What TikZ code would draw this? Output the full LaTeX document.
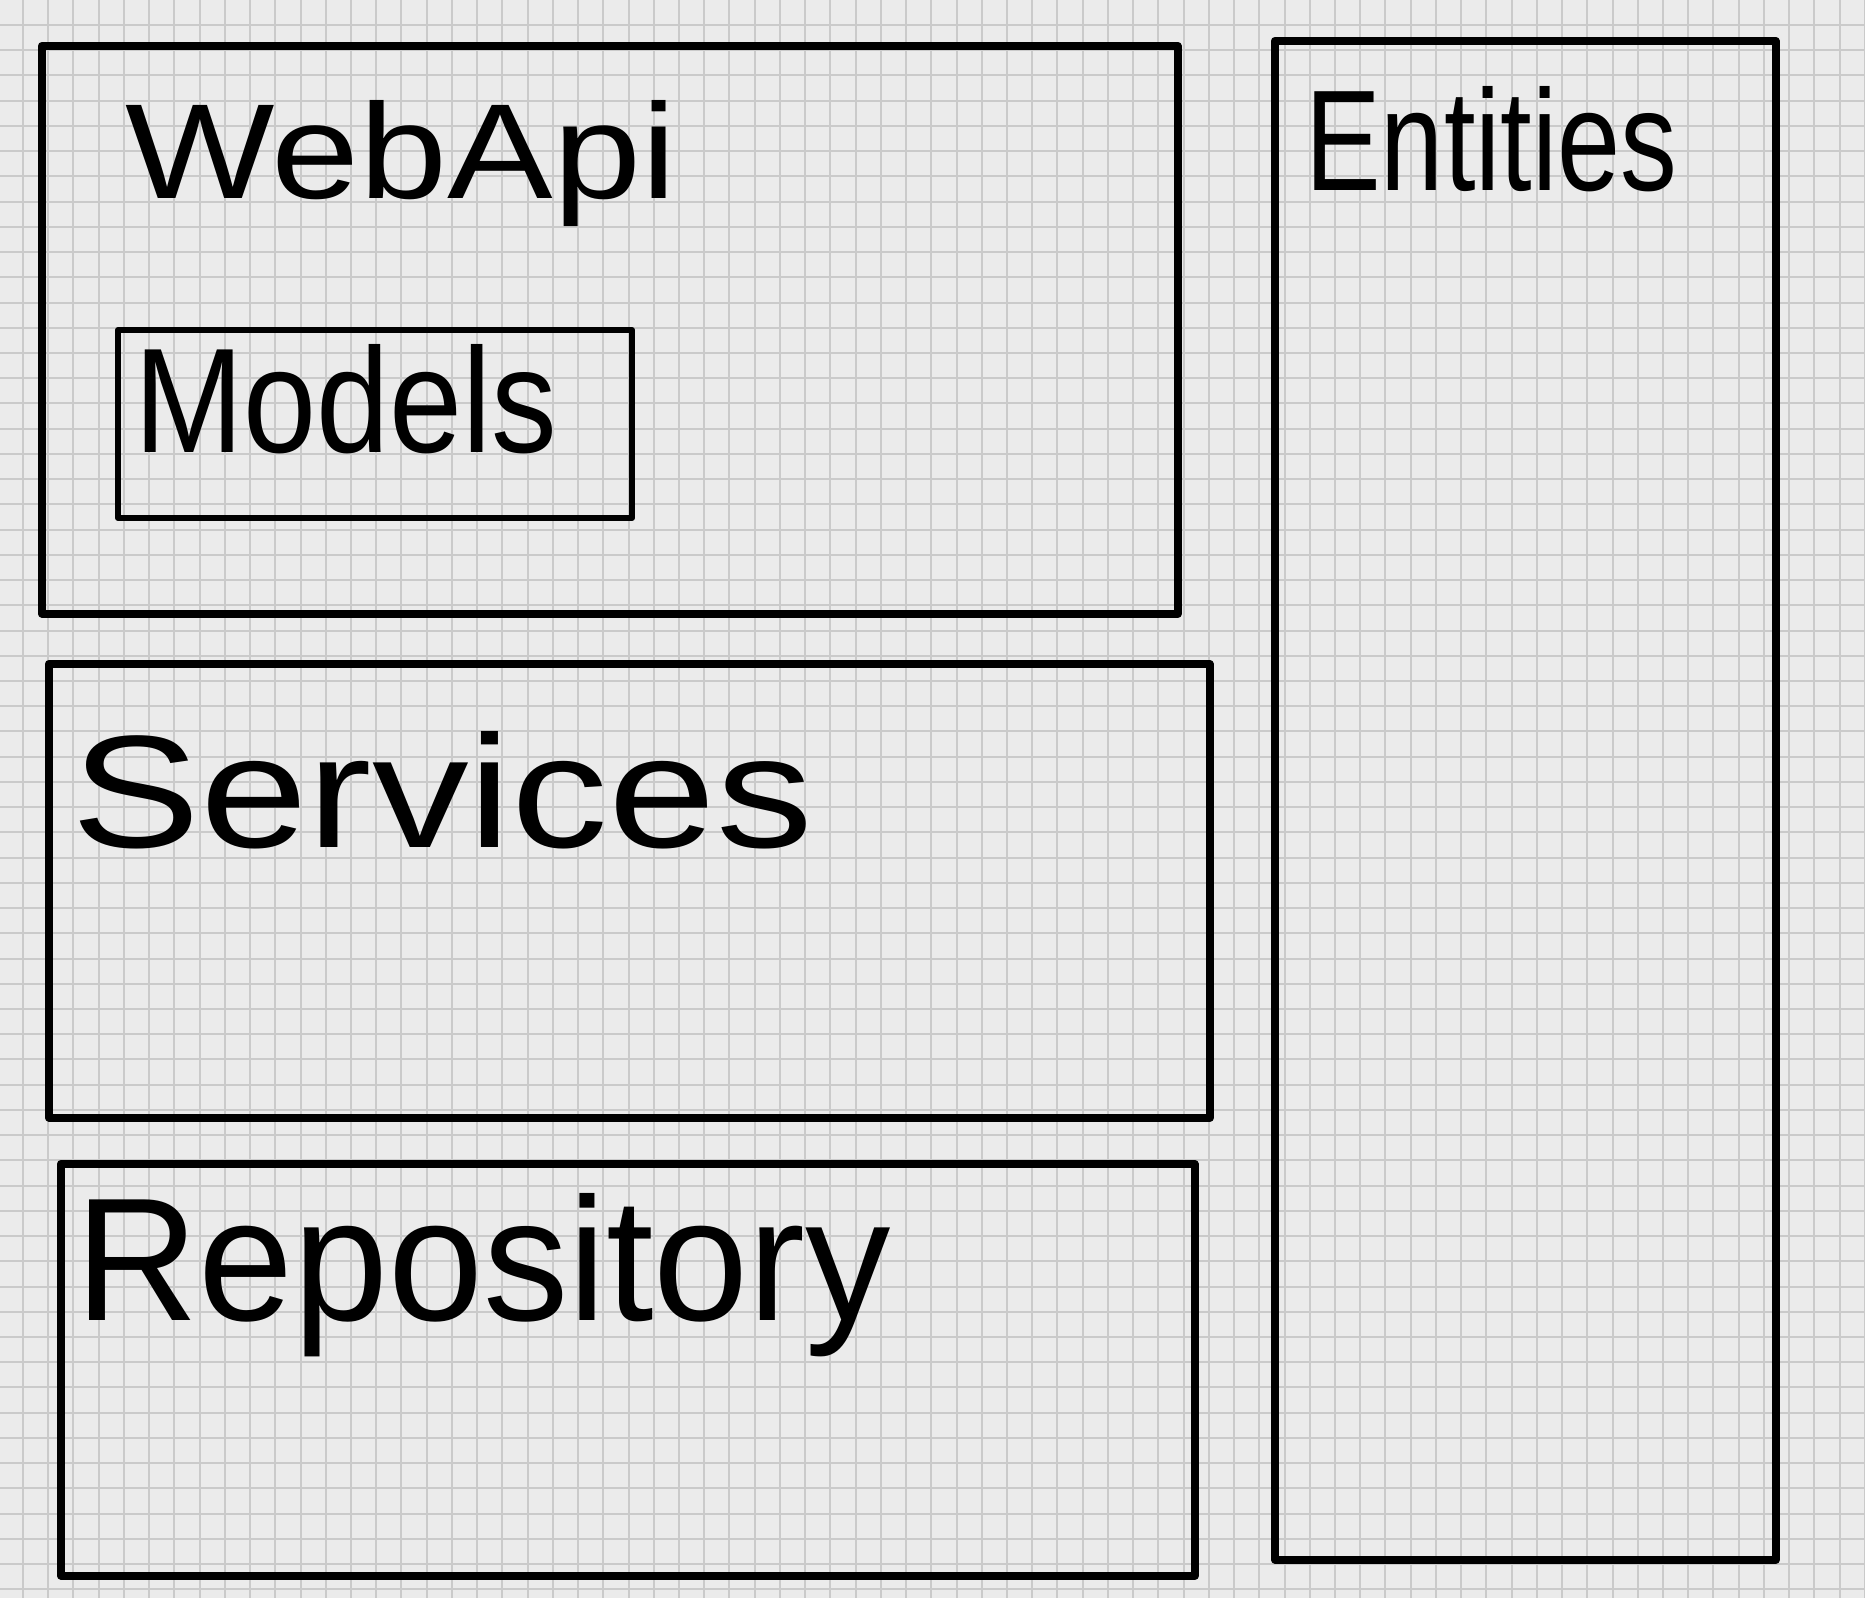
\documentclass[tikz,border=0pt]{standalone}
\usepackage{fontspec}
\setmainfont{Liberation Sans}
\usepackage{graphicx}
\definecolor{paper}{HTML}{EBEBEB}
\definecolor{gridline}{HTML}{CACACA}
\begin{document}
\begin{tikzpicture}[x=1pt,y=-1pt,
  block/.style={draw=black, line width=7.5pt, line join=round, inner sep=0pt, anchor=north west},
  caption/.style={anchor=base west, inner sep=0pt, text=black}]
% squared paper
\fill[paper] (0,0) rectangle (1865,1598);
\useasboundingbox (0,0) rectangle (1865,1598);
\foreach \i in {0,...,73}
  \draw[gridline, line width=2pt] ({23+\i*25.23},0) -- ({23+\i*25.23},1598);
\foreach \j in {0,...,63}
  \draw[gridline, line width=2pt] (0,{25+\j*25.23}) -- (1865,{25+\j*25.23});

% layers
\node[block, minimum width=1136pt, minimum height=568pt] (webapi) at (38,42) {};
\node[block, line width=6pt, minimum width=514pt, minimum height=188pt] (models) at (115,327) {};
\node[block, minimum width=1161pt, minimum height=454pt] (services) at (45,660) {};
\node[block, minimum width=1134pt, minimum height=412pt] (repository) at (57,1160) {};
\node[block, minimum width=501pt, minimum height=1519pt] (entities) at (1271,37) {};

% labels
\node[caption] (webapiT) at (125,198) {\resizebox{551pt}{98pt}{WebApi}};
\node[caption] (modelsT) at (134,452) {\resizebox{423pt}{108pt}{Models}};
\node[caption] (servicesT) at (71,847) {\resizebox{741pt}{116pt}{Services}};
\node[caption] (repositoryT) at (75,1320) {\resizebox{815pt}{127pt}{Repository}};
\node[caption] (entitiesT) at (1305,190) {\resizebox{372pt}{104pt}{Entities}};
\end{tikzpicture}
\end{document}
